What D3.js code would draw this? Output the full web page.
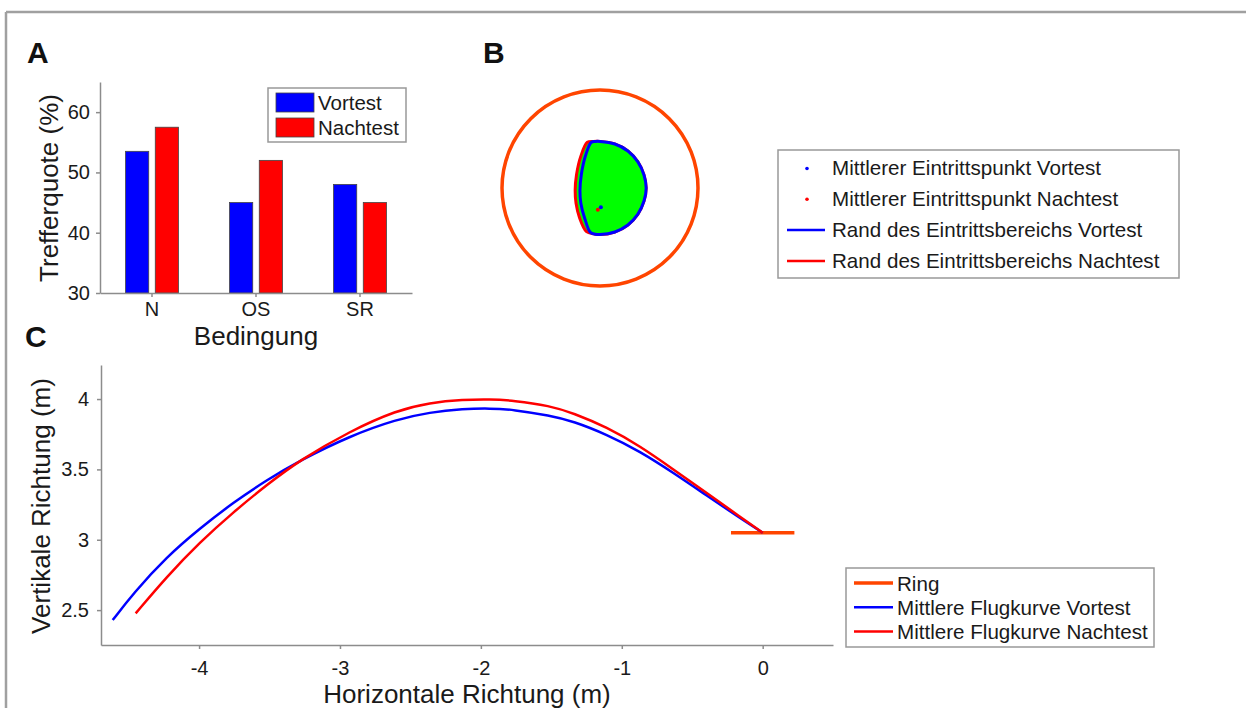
<!DOCTYPE html>
<html>
<head>
<meta charset="utf-8">
<script src="https://cdn.jsdelivr.net/npm/d3@7.9.0/dist/d3.min.js"></script>
<style>
  body { margin: 0; background: #fff; }
  svg { display: block; font-family: "Liberation Sans", Arial, sans-serif; }
  .axis path, .axis line { stroke: #8c8c8c; stroke-width: 1.5; }
  .axis text { fill: #1a1a1a; font-size: 20px; }
</style>
</head>
<body>
<svg id="fig" width="1246" height="708"></svg>
<script>
// Panel A data
const categories = ['N', 'OS', 'SR'];
const series = ['Vortest', 'Nachtest'];
const vortest = [53.5, 45, 48];
const nachtest = [57.5, 52, 45];
const yTicksA = [30, 40, 50, 60];

// Panel B data (metres, ring centre = 0,0)
const ringRadius = 0.225;
const rimVortX = [-0.020, -0.010, 0, 0.034, 0.064, 0.087, 0.101, 0.106, 0.101, 0.087, 0.064, 0.034, 0, -0.011, -0.022, -0.035, -0.044, -0.046, -0.043, -0.033];
const rimVortY = [0.105, 0.107, 0.107, 0.101, 0.085, 0.060, 0.030, 0, -0.030, -0.060, -0.085, -0.101, -0.107, -0.106, -0.102, -0.070, -0.035, -0.005, 0.030, 0.075];
const rimNachX = [-0.029, -0.015, 0, 0.034, 0.064, 0.087, 0.101, 0.106, 0.101, 0.087, 0.064, 0.034, 0, -0.014, -0.031, -0.047, -0.055, -0.057, -0.054, -0.044];
const rimNachY = [0.105, 0.107, 0.107, 0.101, 0.085, 0.060, 0.030, 0, -0.030, -0.060, -0.085, -0.101, -0.107, -0.105, -0.100, -0.068, -0.035, -0.005, 0.030, 0.073];
const meanVort = [0.002, -0.044];
const meanNach = [-0.005, -0.050];

// Panel C data
const flightVortX = [-4.613, -4.467, -4.230, -3.994, -3.757, -3.520, -3.284, -2.929, -2.598, -2.363, -2.125, -1.935, -1.770, -1.510, -1.344, -1.107, -0.871, -0.634, -0.397, -0.161, 0];
const flightVortY = [2.429, 2.619, 2.879, 3.081, 3.265, 3.424, 3.564, 3.738, 3.856, 3.906, 3.930, 3.934, 3.925, 3.882, 3.842, 3.748, 3.628, 3.476, 3.314, 3.154, 3.05];
const flightNachX = [-4.450, -4.230, -3.994, -3.757, -3.520, -3.284, -2.929, -2.598, -2.363, -2.125, -1.935, -1.770, -1.510, -1.344, -1.107, -0.871, -0.634, -0.397, -0.161, 0];
const flightNachY = [2.477, 2.737, 2.983, 3.196, 3.390, 3.566, 3.772, 3.920, 3.974, 3.996, 3.999, 3.990, 3.952, 3.900, 3.800, 3.666, 3.500, 3.332, 3.164, 3.05];
const ringX = [-0.225, 0.225];
const ringHeight = 3.05;
const xTicksC = [-4, -3, -2, -1, 0];
const yTicksC = [2.5, 3, 3.5, 4];

const BLUE = '#0000ff', RED = '#ff0000', RING = '#ff4500', GREEN = '#00ff00';
const svg = d3.select('#fig');

// figure frame (top + left)
svg.append('line').attr('x1', 6).attr('x2', 1246).attr('y1', 12).attr('y2', 12)
  .attr('stroke', '#a0a0a0').attr('stroke-width', 2.5);
svg.append('line').attr('x1', 6).attr('x2', 6).attr('y1', 12).attr('y2', 708)
  .attr('stroke', '#a0a0a0').attr('stroke-width', 2.5);

// panel letters
[['A', 27, 63], ['B', 483, 63], ['C', 25, 347]].forEach(([t, x, y]) => {
  svg.append('text').attr('x', x).attr('y', y).text(t)
    .attr('font-size', 30).attr('font-weight', 'bold').attr('fill', '#111');
});

// ---------- A: bar chart ----------
const x0 = d3.scaleBand().domain(categories).range([100, 412]);
const x1 = d3.scaleBand().domain(series).range([0, x0.bandwidth()])
  .paddingInner(0.22).paddingOuter(0.86);
const yA = d3.scaleLinear().domain([30, 65]).range([293, 82]);
const colorA = d3.scaleOrdinal().domain(series).range([BLUE, RED]);

const gA = svg.append('g');
const rows = categories.map((c, i) => ({ cat: c, Vortest: vortest[i], Nachtest: nachtest[i] }));
gA.selectAll('g.grp').data(rows).join('g')
  .attr('transform', d => `translate(${x0(d.cat)},0)`)
  .selectAll('rect').data(d => series.map(s => ({ s, v: d[s] }))).join('rect')
  .attr('x', d => x1(d.s)).attr('width', x1.bandwidth())
  .attr('y', d => yA(d.v)).attr('height', d => yA(30) - yA(d.v))
  .attr('fill', d => colorA(d.s)).attr('stroke', '#444').attr('stroke-width', 0.8);

gA.append('g').attr('class', 'axis').attr('transform', 'translate(100,0)')
  .call(d3.axisLeft(yA).tickValues(yTicksA).tickSize(4).tickSizeOuter(0).tickPadding(6));
gA.append('g').attr('class', 'axis').attr('transform', 'translate(0,293)')
  .call(d3.axisBottom(x0).tickSize(4).tickSizeOuter(0).tickPadding(5));
gA.selectAll('.axis').attr('font-family', null).attr('font-size', null);

gA.append('text').attr('transform', 'translate(58,188) rotate(-90)')
  .attr('text-anchor', 'middle').attr('font-size', 26).attr('fill', '#1a1a1a').text('Trefferquote (%)');
gA.append('text').attr('x', 256).attr('y', 345)
  .attr('text-anchor', 'middle').attr('font-size', 26).attr('fill', '#1a1a1a').text('Bedingung');

// legend A
const legA = gA.append('g');
legA.append('rect').attr('x', 268).attr('y', 88).attr('width', 138).attr('height', 54)
  .attr('fill', '#fff').attr('stroke', '#999').attr('stroke-width', 1.5);
series.forEach((s, i) => {
  legA.append('rect').attr('x', 276).attr('y', 93 + i * 25).attr('width', 38).attr('height', 19)
    .attr('fill', colorA(s)).attr('stroke', '#444').attr('stroke-width', 0.8);
  legA.append('text').attr('x', 318).attr('y', 110 + i * 24.5)
    .attr('font-size', 20.5).attr('fill', '#1a1a1a').text(s);
});

// ---------- B: ring top view ----------
const xB = d3.scaleLinear().domain([-ringRadius, ringRadius]).range([502, 698]);
const yB = d3.scaleLinear().domain([-ringRadius, ringRadius]).range([286, 90]);
const gB = svg.append('g');
gB.append('circle').attr('cx', xB(0)).attr('cy', yB(0)).attr('r', xB(ringRadius) - xB(0))
  .attr('fill', 'none').attr('stroke', RING).attr('stroke-width', 3.5);

const closed = d3.line().x(d => xB(d[0])).y(d => yB(d[1])).curve(d3.curveCatmullRomClosed.alpha(0.5));
const ptsNach = d3.zip(rimNachX, rimNachY);
const ptsVort = d3.zip(rimVortX, rimVortY);
gB.append('path').attr('d', closed(ptsNach)).attr('fill', GREEN).attr('stroke', RED).attr('stroke-width', 3);
gB.append('path').attr('d', closed(ptsVort)).attr('fill', GREEN).attr('stroke', BLUE).attr('stroke-width', 3);
gB.append('circle').attr('cx', xB(meanNach[0])).attr('cy', yB(meanNach[1])).attr('r', 2).attr('fill', RED);
gB.append('circle').attr('cx', xB(meanVort[0])).attr('cy', yB(meanVort[1])).attr('r', 2).attr('fill', BLUE);

// legend B
const legBLabels = ['Mittlerer Eintrittspunkt Vortest', 'Mittlerer Eintrittspunkt Nachtest',
  'Rand des Eintrittsbereichs Vortest', 'Rand des Eintrittsbereichs Nachtest'];
const legBKinds = ['dot', 'dot', 'line', 'line'];
const legBColors = [BLUE, RED, BLUE, RED];
const legB = svg.append('g');
legB.append('rect').attr('x', 778).attr('y', 150).attr('width', 401).attr('height', 128)
  .attr('fill', '#fff').attr('stroke', '#999').attr('stroke-width', 1.5);
legBLabels.forEach((t, i) => {
  const cy = 168.5 + i * 30.8;
  if (legBKinds[i] === 'dot') {
    legB.append('circle').attr('cx', 807).attr('cy', cy).attr('r', 1.8).attr('fill', legBColors[i]);
  } else {
    legB.append('line').attr('x1', 787).attr('x2', 825).attr('y1', cy).attr('y2', cy)
      .attr('stroke', legBColors[i]).attr('stroke-width', 2.5);
  }
  legB.append('text').attr('x', 832).attr('y', cy + 6.8).attr('font-size', 20.6).attr('fill', '#1a1a1a').text(t);
});

// ---------- C: flight curves ----------
const xC = d3.scaleLinear().domain([-4.696, 0.499]).range([101, 833]);
const yC = d3.scaleLinear().domain([2.252, 4.242]).range([645, 365]);
const gC = svg.append('g');
gC.append('g').attr('class', 'axis').attr('transform', 'translate(0,645)')
  .call(d3.axisBottom(xC).tickValues(xTicksC).tickFormat(d => String(d)).tickSize(4).tickSizeOuter(0).tickPadding(12));
gC.append('g').attr('class', 'axis').attr('transform', 'translate(101,0)')
  .call(d3.axisLeft(yC).tickValues(yTicksC).tickFormat(d => String(d)).tickSize(4).tickSizeOuter(0).tickPadding(8));
gC.selectAll('.axis').attr('font-family', null).attr('font-size', null);

const lineC = d3.line().x(d => xC(d[0])).y(d => yC(d[1])).curve(d3.curveBasis);
gC.append('line').attr('x1', xC(ringX[0])).attr('x2', xC(ringX[1]))
  .attr('y1', yC(ringHeight)).attr('y2', yC(ringHeight))
  .attr('stroke', RING).attr('stroke-width', 3.5);
gC.append('path').attr('d', lineC(d3.zip(flightVortX, flightVortY)))
  .attr('fill', 'none').attr('stroke', BLUE).attr('stroke-width', 2.5);
gC.append('path').attr('d', lineC(d3.zip(flightNachX, flightNachY)))
  .attr('fill', 'none').attr('stroke', RED).attr('stroke-width', 2.5);

gC.append('text').attr('transform', 'translate(50,506) rotate(-90)')
  .attr('text-anchor', 'middle').attr('font-size', 26).attr('fill', '#1a1a1a').text('Vertikale Richtung (m)');
gC.append('text').attr('x', 467).attr('y', 703)
  .attr('text-anchor', 'middle').attr('font-size', 26).attr('fill', '#1a1a1a').text('Horizontale Richtung (m)');

// legend C
const legCLabels = ['Ring', 'Mittlere Flugkurve Vortest', 'Mittlere Flugkurve Nachtest'];
const legCColors = [RING, BLUE, RED];
const legC = svg.append('g');
legC.append('rect').attr('x', 846).attr('y', 568).attr('width', 308).attr('height', 79)
  .attr('fill', '#fff').attr('stroke', '#999').attr('stroke-width', 1.5);
legCLabels.forEach((t, i) => {
  const cy = 583 + i * 24.2;
  legC.append('line').attr('x1', 854).attr('x2', 893).attr('y1', cy).attr('y2', cy)
    .attr('stroke', legCColors[i]).attr('stroke-width', i === 0 ? 3.5 : 2.5);
  legC.append('text').attr('x', 897).attr('y', cy + 7.5).attr('font-size', 20.6).attr('fill', '#1a1a1a').text(t);
});
</script>
</body>
</html>
